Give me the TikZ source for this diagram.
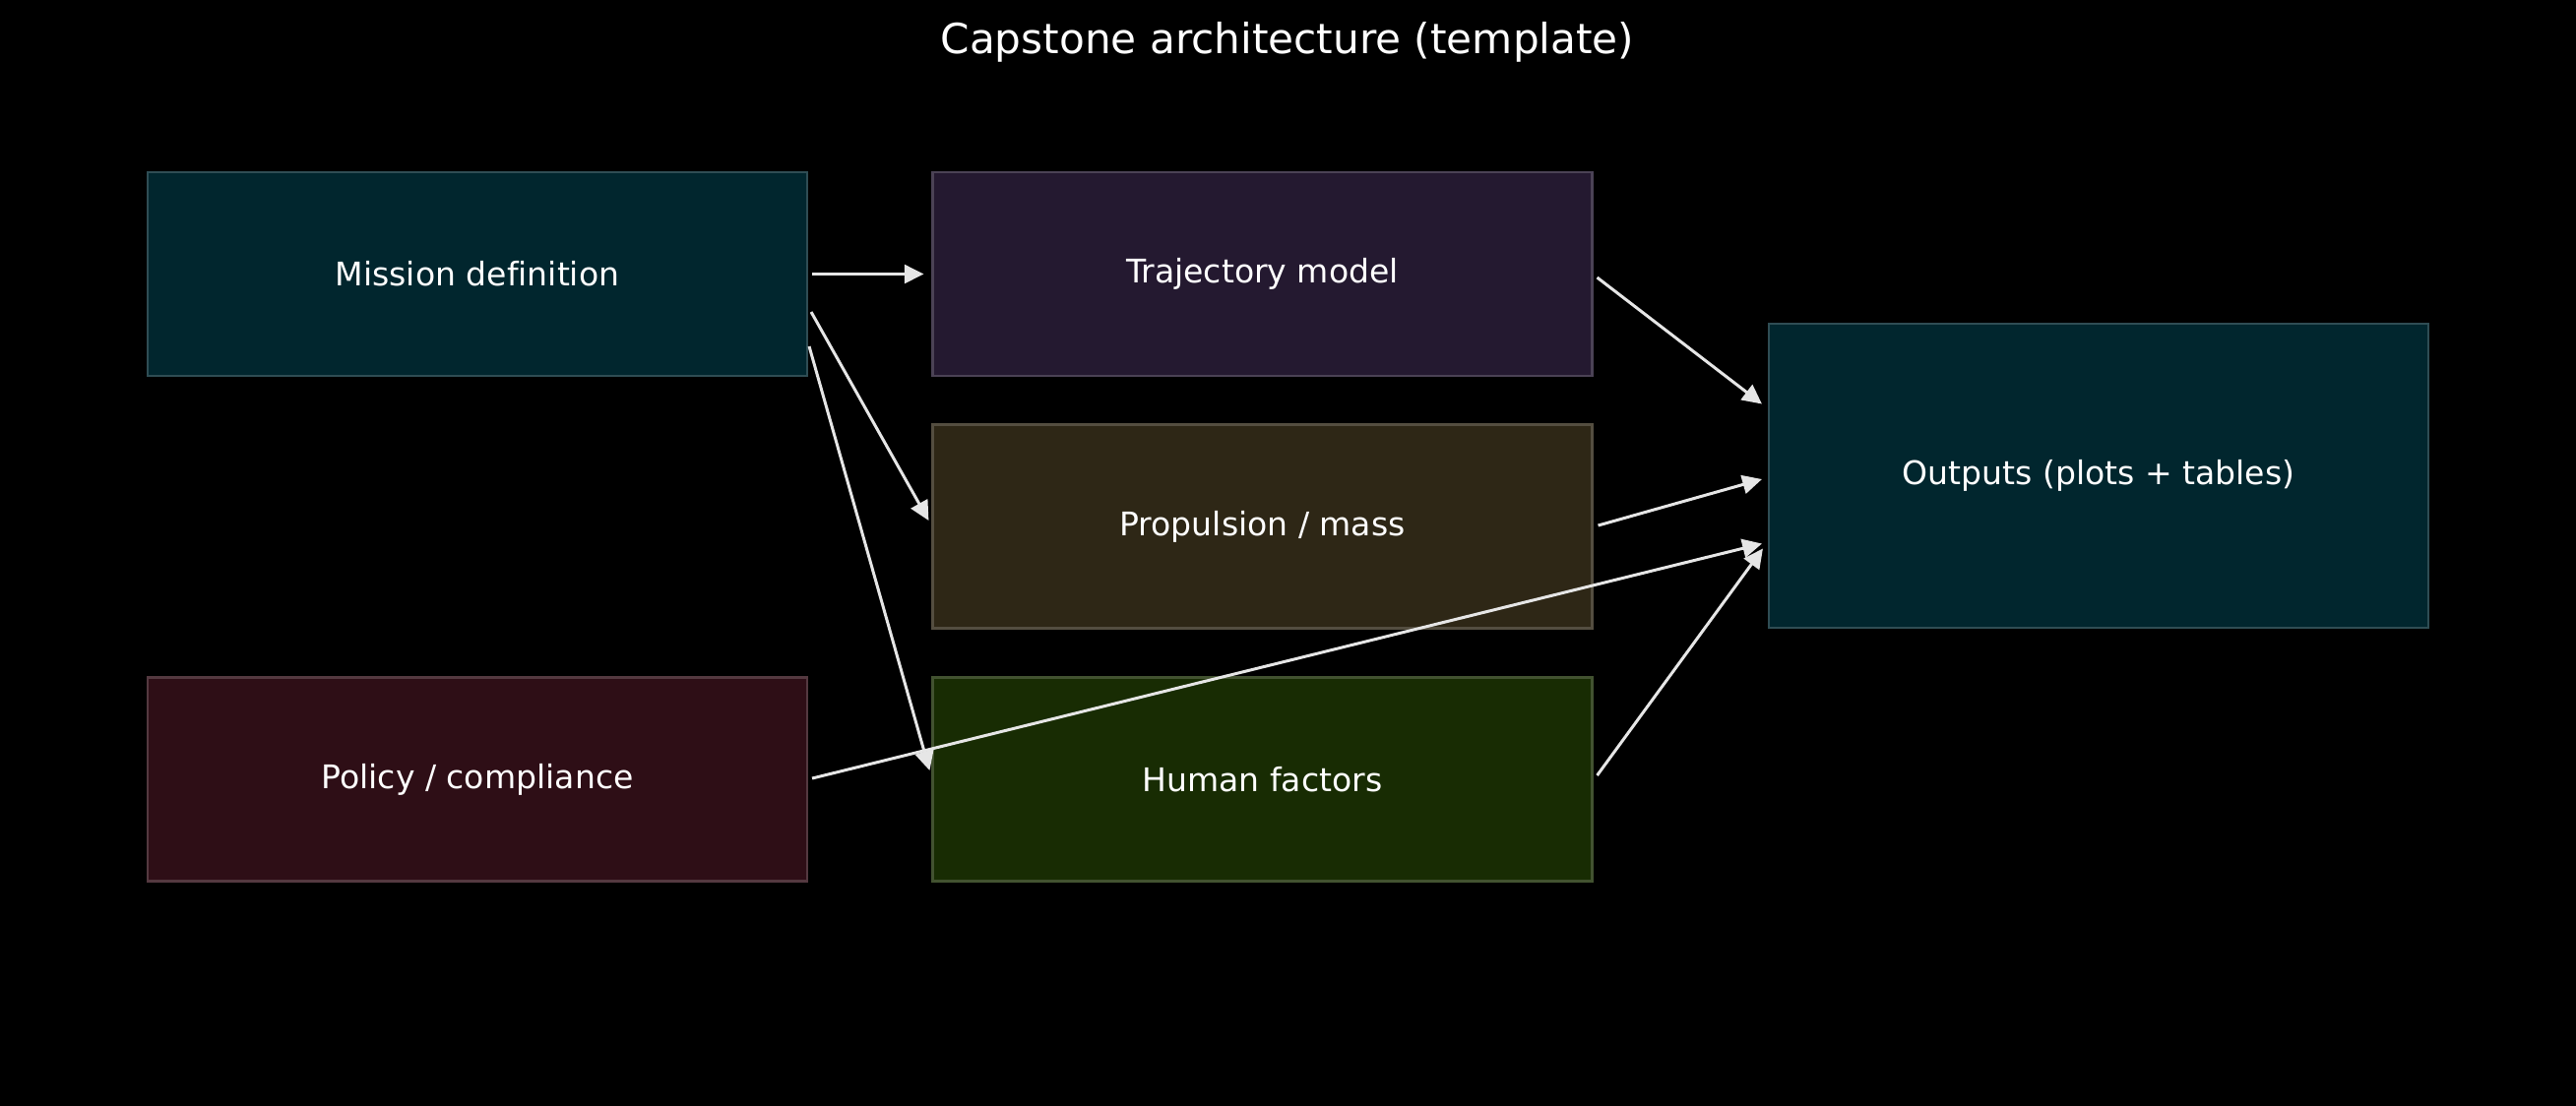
\documentclass[tikz,border=0pt]{standalone}
\usepackage{fontspec}
\setmainfont[Ligatures=NoCommon]{DejaVu Sans}
\usetikzlibrary{calc,arrows.meta}
\definecolor{missionfill}{RGB}{1,38,46}
\definecolor{trajfill}{RGB}{36,25,48}
\definecolor{propfill}{RGB}{46,39,22}
\definecolor{humanfill}{RGB}{24,44,3}
\definecolor{policyfill}{RGB}{46,14,22}
\definecolor{arrowcol}{RGB}{230,230,230}
\tikzset{
  box/.style={draw=#1!82!white, fill=#1, line width=0.6pt, minimum width=670*0.01cm, minimum height=207*0.01cm, inner sep=0pt, text=white, font=\fontsize{9.4}{11}\selectfont},
  link/.style={draw=arrowcol, line width=0.85pt, -{Triangle[length=5.6pt,width=5.4pt,fill=arrowcol]}},
}
\begin{document}
\begin{tikzpicture}[x=0.01cm,y=-0.01cm]
\useasboundingbox (0,0) rectangle (2617,1123);
\fill[black] (-10,-10) rectangle (2627,1133);
\node[text=white, anchor=base, font=\fontsize{12}{14}\selectfont] (title) at (1308,54) {Capstone architecture (template)};
\node[box=missionfill] (mission) at (485,278.5) {Mission definition};
\node[box=trajfill] (traj) at (1282.5,278.5) {Trajectory model};
\node[box=propfill] (prop) at (1282.5,535) {Propulsion / mass};
\node[box=humanfill] (human) at (1282.5,792) {Human factors};
\node[box=policyfill] (policy) at (485,792) {Policy / compliance};
\node[box=missionfill, minimum height=309*0.01cm] (outputs) at (2132,483.5) {Outputs (plots + tables)};
\draw[link] ($(mission.east)+(4,0)$) -- ($(traj.west)+(-8,0)$);
\draw[link] ($(mission.east)+(3,38.5)$) -- ($(prop.west)+(-3,-6)$);
\draw[link] ($(mission.east)+(1,73.5)$) -- ($(human.west)+(-2,-9)$);
\draw[link] ($(traj.east)+(4,3.5)$) -- ($(outputs.west)+(-6,-73)$);
\draw[link] ($(prop.east)+(5,-1)$) -- ($(outputs.west)+(-6,3.5)$);
\draw[link] ($(policy.east)+(4,-1)$) -- ($(outputs.west)+(-6,69)$);
\draw[link] ($(human.east)+(4,-4)$) -- ($(outputs.west)+(-5,74)$);
\end{tikzpicture}
\end{document}
